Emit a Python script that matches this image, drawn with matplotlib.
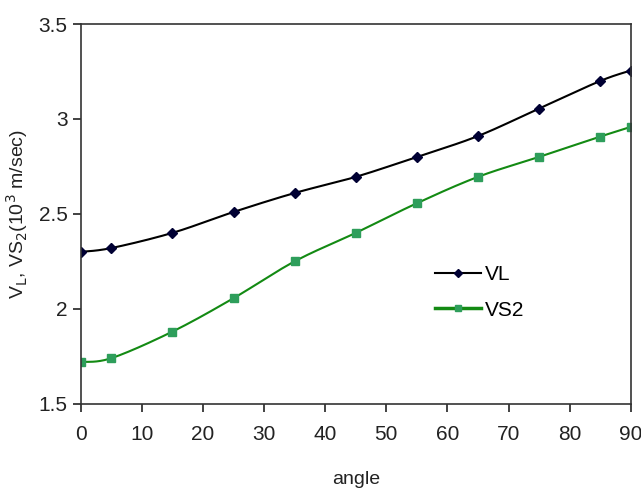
import matplotlib
matplotlib.use('Agg')
import matplotlib.pyplot as plt
import numpy as np

plt.rcParams['font.family'] = ['Liberation Sans', 'DejaVu Sans']

angle = [0, 5, 15, 25, 35, 45, 55, 65, 75, 85, 90]
vl = [2.30, 2.32, 2.40, 2.51, 2.61, 2.695, 2.80, 2.91, 3.055, 3.20, 3.255]
vs2 = [1.72, 1.74, 1.88, 2.056, 2.25, 2.40, 2.556, 2.695, 2.80, 2.907, 2.958]


def smooth(x, y, n=20):
    # catmull-rom style smoothing, like excel's smoothed line
    x = np.asarray(x, float)
    y = np.asarray(y, float)
    px = np.concatenate([[x[0]], x, [x[-1]]])
    py = np.concatenate([[y[0]], y, [y[-1]]])
    xs, ys = [], []
    t = np.linspace(0, 1, n)
    for i in range(1, len(px) - 2):
        p0, p1, p2, p3 = px[i-1], px[i], px[i+1], px[i+2]
        q0, q1, q2, q3 = py[i-1], py[i], py[i+1], py[i+2]
        for a, b, c, d, out in ((p0, p1, p2, p3, xs), (q0, q1, q2, q3, ys)):
            out.append(0.5 * ((2*b) + (-a + c)*t + (2*a - 5*b + 4*c - d)*t**2
                              + (-a + 3*b - 3*c + d)*t**3))
    return np.concatenate(xs), np.concatenate(ys)


fig, ax = plt.subplots(figsize=(6.41, 4.9), dpi=100)
fig.subplots_adjust(left=0.126, right=0.984, top=0.951, bottom=0.176)

sx, sy = smooth(angle, vl)
ax.plot(sx, sy, color='black', lw=1.5)
ax.plot(angle, vl, ls='none', marker='D', ms=5, color='#000033')
sx, sy = smooth(angle, vs2)
ax.plot(sx, sy, color='#138a13', lw=1.5)
ax.plot(angle, vs2, ls='none', marker='s', ms=6, color='#2e9e5b')

# legend handles
ax.plot([], [], color='black', lw=1.5, marker='D', ms=4,
        mfc='#000033', mec='#000033', label='VL')
ax.plot([], [], color='#138a13', lw=2.5, marker='s', ms=5,
        mfc='#2e9e5b', mec='#2e9e5b', label='VS2')
h, l = ax.get_legend_handles_labels()
ax.legend(h, l, loc='upper left', bbox_to_anchor=(0.61, 0.415), frameon=False,
          fontsize=15, handlelength=2.2, handletextpad=0.2, labelspacing=0.8)

ax.set_xlim(0, 90)
ax.set_ylim(1.5, 3.5)
ax.set_xticks(np.arange(0, 91, 10))
ax.set_yticks([1.5, 2, 2.5, 3, 3.5])
ax.set_yticklabels(['1.5', '2', '2.5', '3', '3.5'])
ax.tick_params(direction='out', length=6, width=1.2, labelsize=15, colors='#222222')
ax.tick_params(axis='x', pad=9)
for s in ax.spines.values():
    s.set_linewidth(1.2)
    s.set_color('#333333')

ax.set_xlabel('angle', fontsize=14, labelpad=20, color='#222222')
ax.set_ylabel(r'V$_{\rm L}$, VS$_{\rm 2}$(10$^{\rm 3}$ m/sec)', fontsize=14,
              color='#222222', labelpad=6)

plt.savefig('out.png', dpi=100)
